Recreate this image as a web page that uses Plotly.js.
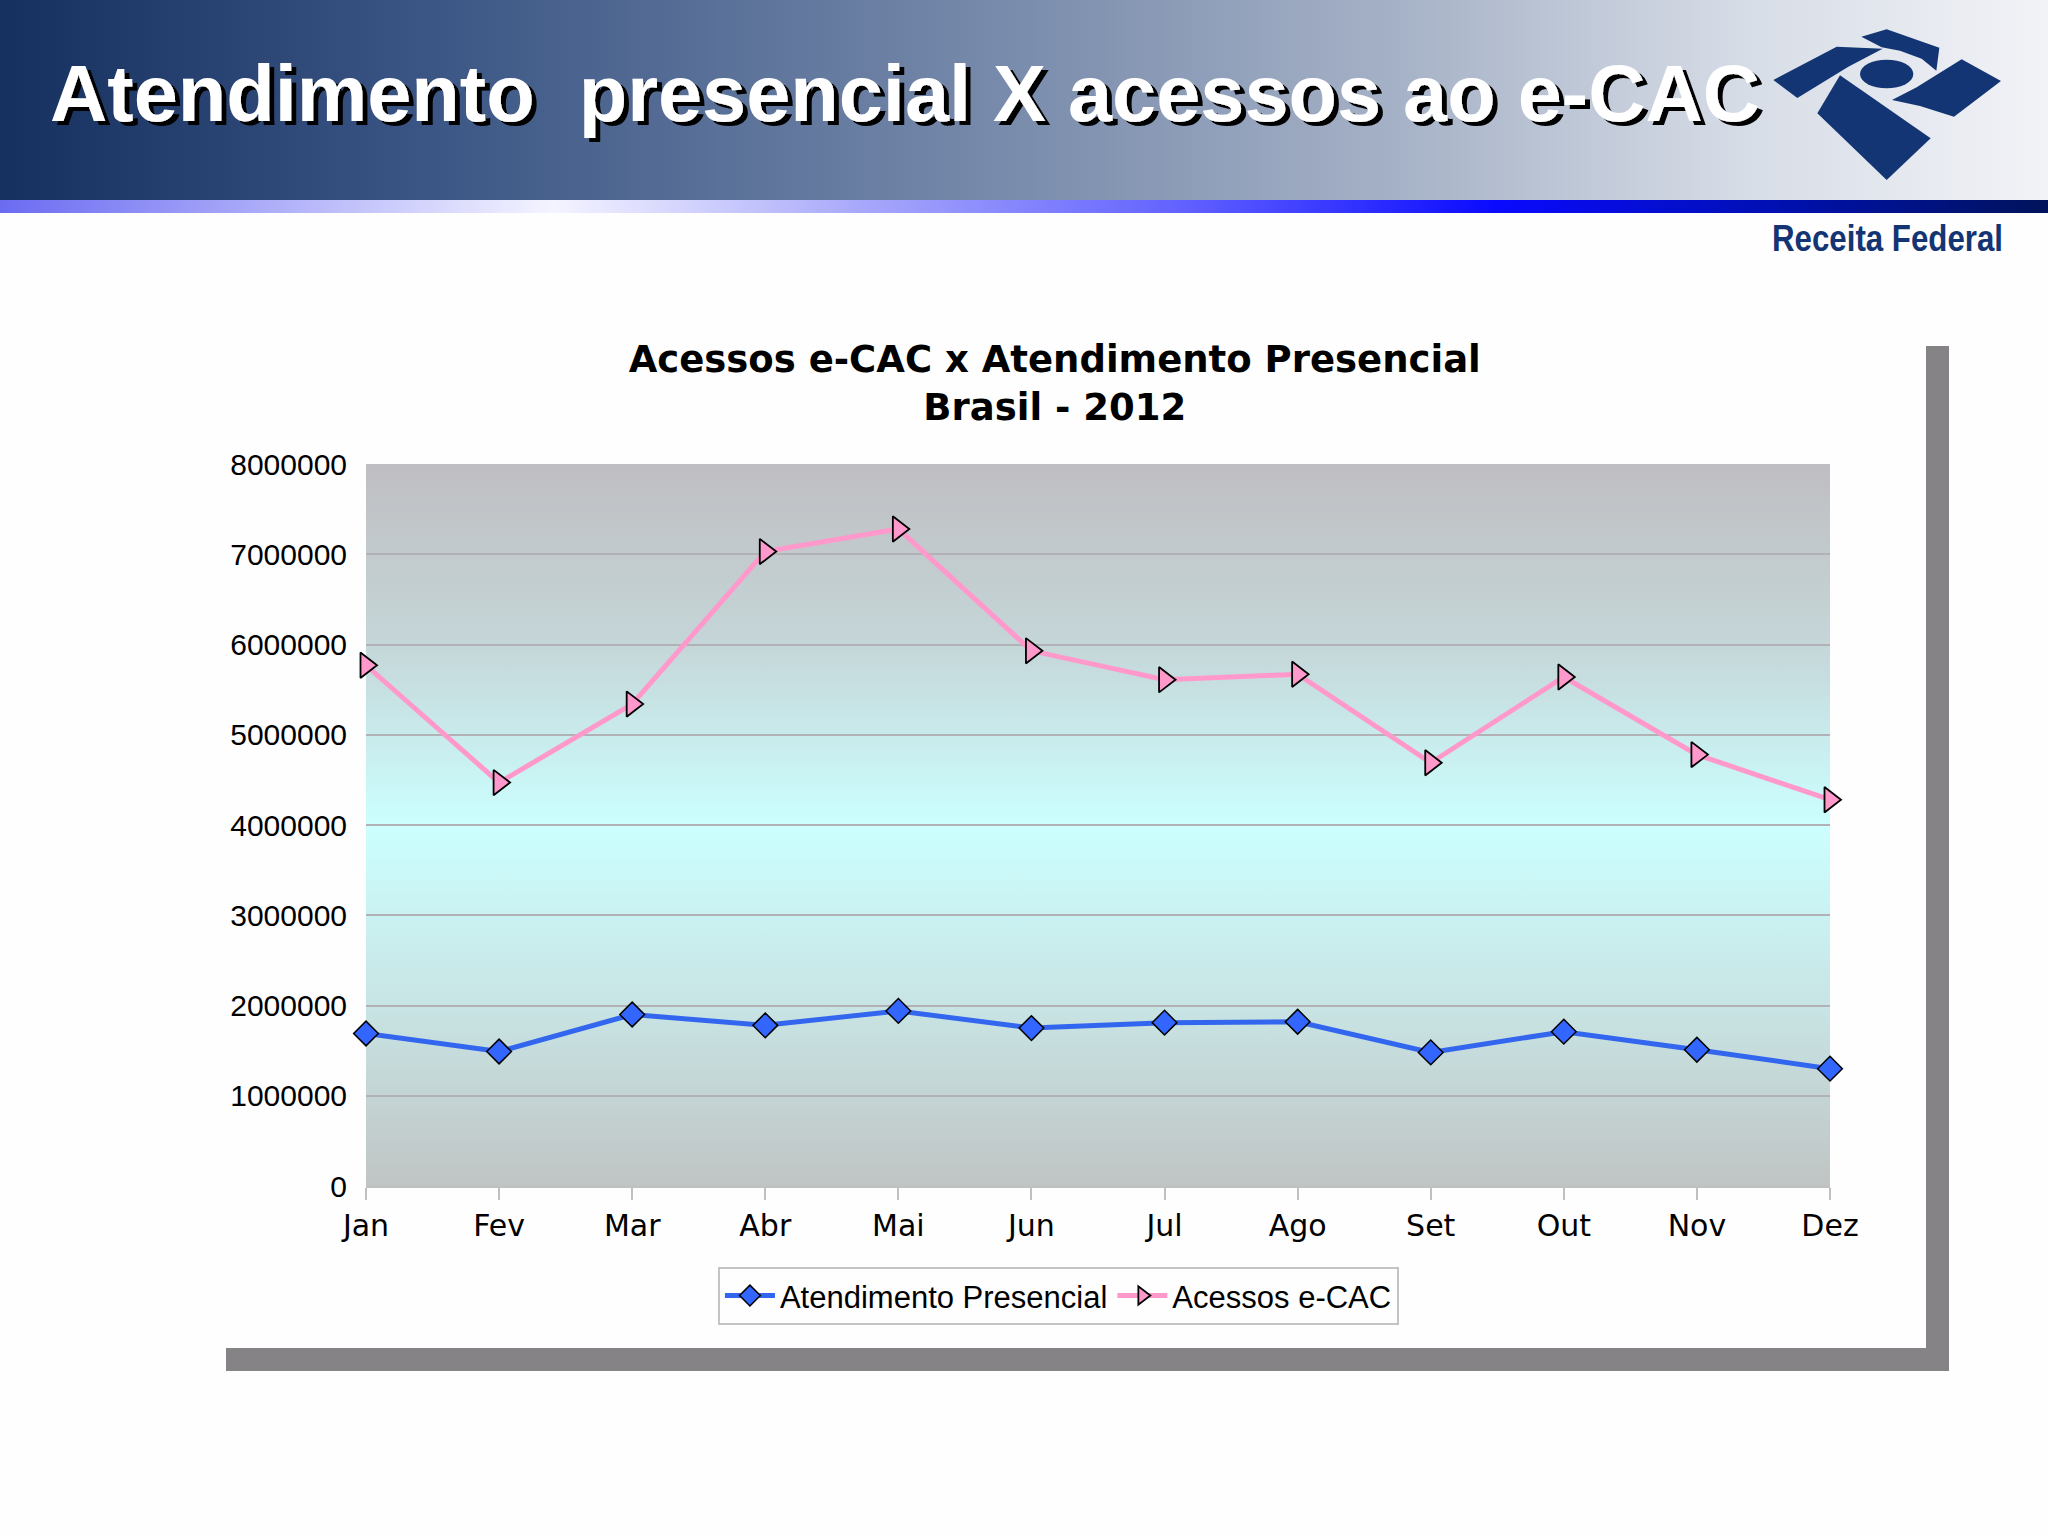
<!DOCTYPE html>
<html>
<head>
<meta charset="utf-8">
<script src="https://cdn.plot.ly/plotly-3.0.1.min.js"></script>
<style>
  html, body { margin:0; padding:0; background:#fefefe; }
  #page { position:relative; width:2048px; height:1536px; overflow:hidden; background:#fefefe; }
  #banner { position:absolute; left:0; top:0; width:2048px; height:200px;
    background:linear-gradient(to right, #15305f 0%, #3d5886 22%, #6f83a6 45%, #a5b1c6 68%, #d6dce6 85%, #f2f3f7 100%); }
  #stripe { position:absolute; left:0; top:200px; width:2048px; height:13px;
    background:linear-gradient(to right, #6b6bf2 0%, #b7b7fa 15%, #f4f4ff 27%, #a8a8fb 42%, #6060ff 58%, #0a0aff 73%, #0010b0 87%, #00135a 100%); }
  #shadow { position:absolute; left:226px; top:346px; width:1723px; height:1025px; background:#858385; }
  #frame { position:absolute; left:196px; top:318px; width:1730px; height:1030px; background:#fefefe; }
  #plotbg { position:absolute; left:366px; top:464px; width:1464px; height:722px;
    background:linear-gradient(to bottom, #bfbec2 0%, #c5d6d8 25%, #ccffff 50%, #c8e4e4 75%, #c0c4c4 100%); }
  #chart { position:absolute; left:0; top:0; width:2048px; height:1536px; }
  svg.deco { position:absolute; left:0; top:0; }
</style>
</head>
<body>
<div id="page">
  <div id="banner"></div>
  <div id="stripe"></div>
  <svg class="deco" width="2048" height="270" viewBox="0 0 2048 270">
    <defs>
      <filter id="tshadow" x="-5%" y="-20%" width="110%" height="150%">
        <feFlood flood-color="#000" result="f"/>
        <feComposite in="f" in2="SourceAlpha" operator="in" result="s"/>
        <feOffset in="s" dx="5" dy="4" result="o"/>
        <feMerge><feMergeNode in="o"/><feMergeNode in="SourceGraphic"/></feMerge>
      </filter>
    </defs>
    <text x="50" y="121" font-family="'Liberation Sans', Arial, sans-serif" font-weight="bold" font-size="80" fill="#ffffff" textLength="1710" lengthAdjust="spacingAndGlyphs" filter="url(#tshadow)">Atendimento&#160; presencial X acessos ao e-CAC</text>
    <g transform="translate(1740,0) scale(0.3333333)" fill="#143573">
      <polygon points="364,110 440,88 598,143 589,212 545,176 480,152 425,142"/>
      <polygon points="100,240 290,140 428,146 325,200 172,294"/>
      <ellipse cx="440" cy="222" rx="80" ry="43"/>
      <polygon points="456,300 530,262 665,178 783,243 642,350 540,318"/>
      <polygon points="232,340 300,226 572,415 440,540"/>
    </g>
    <text x="1772" y="251" font-family="'Liberation Sans Narrow', 'Liberation Sans', Arial, sans-serif" font-weight="bold" font-size="37" fill="#143573" textLength="231" lengthAdjust="spacingAndGlyphs">Receita Federal</text>
  </svg>
  <div id="shadow"></div>
  <div id="frame"></div>
  <div id="plotbg"></div>
  <div id="chart"></div>
</div>
<script>
const months = ['Jan','Fev','Mar','Abr','Mai','Jun','Jul','Ago','Set','Out','Nov','Dez'];
const atendimentoPresencial = [1690000,1490000,1900000,1780000,1940000,1750000,1810000,1820000,1480000,1710000,1510000,1300000];
const acessosECAC = [5770000,4470000,5340000,7030000,7280000,5930000,5610000,5670000,4690000,5640000,4780000,4280000];
const yTickValues = [0,1000000,2000000,3000000,4000000,5000000,6000000,7000000,8000000];

const traces = [
  {
    x: months, y: atendimentoPresencial, name: 'Atendimento Presencial',
    type: 'scatter', mode: 'lines+markers', cliponaxis: false,
    line: {color: '#3366ee', width: 5},
    marker: {symbol: 'diamond', size: 19, color: '#3366ff', line: {color: '#000', width: 1.5}}
  },
  {
    x: months, y: acessosECAC, name: 'Acessos e-CAC',
    type: 'scatter', mode: 'lines+markers', cliponaxis: false,
    line: {color: '#ff99cc', width: 5},
    marker: {symbol: 'triangle-right', size: 22, color: '#ff99cc', line: {color: '#000', width: 1.8}}
  }
];

const layout = {
  width: 2048, height: 1536,
  margin: {l: 366, r: 218, t: 464, b: 350},
  paper_bgcolor: 'rgba(0,0,0,0)',
  plot_bgcolor: 'rgba(0,0,0,0)',
  title: {
    text: '<b>Acessos e-CAC x Atendimento Presencial<br>Brasil - 2012</b>',
    x: 0.515, xanchor: 'center', xref: 'container',
    y: 0.758, yanchor: 'top', yref: 'container',
    font: {family: "'DejaVu Sans', Verdana, sans-serif", size: 37, color: '#000'}
  },
  xaxis: {
    type: 'category', range: [0, 11],
    showgrid: false, zeroline: false,
    showline: true, linecolor: '#c0c0c0', linewidth: 2,
    ticks: 'outside', ticklen: 12, tickwidth: 2, tickcolor: '#c0c0c0',
    tickfont: {family: "'DejaVu Sans', Verdana, sans-serif", size: 30, color: '#000'},
    fixedrange: true
  },
  yaxis: {
    range: [0, 8000000], tickvals: yTickValues, tickformat: 'd',
    showgrid: true, gridcolor: '#b2b2b6', gridwidth: 2,
    zeroline: false, showline: false, ticks: '',
    ticklabelstandoff: 18,
    tickfont: {family: "'Liberation Sans', Arial, sans-serif", size: 30, color: '#000'},
    fixedrange: true
  },
  showlegend: true,
  legend: {
    orientation: 'h', x: 0.2404, xanchor: 'left', y: -0.112, yanchor: 'top',
    bgcolor: '#fefefe', bordercolor: '#c4c4c4', borderwidth: 2,
    font: {family: "'Liberation Sans', Arial, sans-serif", size: 31, color: '#000'},
    itemwidth: 50
  }
};

Plotly.newPlot('chart', traces, layout, {displayModeBar: false, staticPlot: true});
</script>
</body>
</html>
